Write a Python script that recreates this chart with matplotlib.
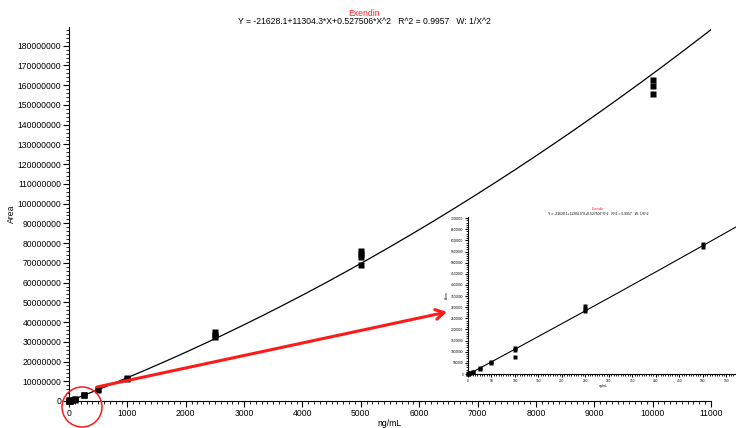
import numpy as np
import matplotlib.pyplot as plt
from matplotlib.patches import Ellipse, FancyArrowPatch
from matplotlib.ticker import MultipleLocator, FixedLocator

plt.rcParams['font.family'] = ['Liberation Sans', 'DejaVu Sans']

# calibration standards (ng/mL) and replicate peak areas
conc = [1, 1, 2, 5, 5, 10, 10, 25, 25, 50, 50,
        100, 100, 100, 250, 250, 250, 500, 500, 1000, 1000,
        2500, 2500, 2500, 5000, 5000, 5000, 5000,
        10000, 10000, 10000]
area = [20000, 15000, 35000, 60000, 45000, 110000, 95000, 250000, 230000, 540000, 500000,
        1180000, 1080000, 760000, 3050000, 2930000, 2820000, 5850000, 5720000, 11600000, 11400000,
        34800000, 33600000, 32600000, 75800000, 74500000, 73200000, 69100000,
        162500000, 159500000, 155500000]

# quadratic fit, weighting 1/X^2
coef = [-21628.1, 11304.3, 0.527506]
compound = "Exendin"
equation = "Y = -21628.1+11304.3*X+0.527506*X^2   R^2 = 0.9957   W: 1/X^2"

main_yticks = list(range(0, 180000001, 10000000))
main_xticks = list(range(0, 11001, 1000))
inset_yticks = list(range(0, 7000001, 500000))
inset_xticks = list(range(0, 551, 50))

W, H = 736, 428
fig = plt.figure(figsize=(W / 100, H / 100), dpi=100)


def fit(x):
    return coef[0] + coef[1] * x + coef[2] * x ** 2


def style_axes(a, fs, major_len, minor_len):
    for s in ['top', 'right']:
        a.spines[s].set_visible(False)
    a.tick_params(which='major', length=major_len, width=0.8, labelsize=fs, pad=1.5, direction='out')
    a.tick_params(which='minor', length=minor_len, width=0.6, direction='out')


# main plot
ax = fig.add_axes([69 / W, 27 / H, 642 / W, 374 / H])
xs = np.linspace(0, 11000, 400)
ax.plot(xs, fit(xs), color='black', lw=0.9)
ax.plot(conc, area, 's', color='black', ms=4.2, mec='none', clip_on=False)
ax.set_xlim(0, 11000)
ax.set_ylim(0, 189500000)
ax.yaxis.set_major_locator(FixedLocator(main_yticks))
ax.set_yticklabels([str(v) for v in main_yticks])
ax.yaxis.set_minor_locator(MultipleLocator(2000000))
ax.xaxis.set_major_locator(FixedLocator(main_xticks))
ax.set_xticklabels([str(v) for v in main_xticks])
ax.xaxis.set_minor_locator(MultipleLocator(100))
style_axes(ax, 6.2, 4, 2.5)
ax.set_xlabel("ng/mL", fontsize=6.2, labelpad=1)
ax.set_ylabel("Area", fontsize=6.2, labelpad=1)

fig.text(364 / W, 1 - 13 / H, compound, color='#ff2020', fontsize=6.2, ha='center', va='center')
fig.text(364 / W, 1 - 22 / H, equation, color='black', fontsize=6.2, ha='center', va='center')

# zoomed view of the low-concentration end
axi = fig.add_axes([468 / W, (H - 374) / H, 270 / W, 157 / H])
axi.patch.set_alpha(0)
xi = np.linspace(0, 575, 200)
axi.plot(xi, fit(xi), color='black', lw=0.8)
sel = [i for i, c in enumerate(conc) if c <= 575]
axi.plot([conc[i] for i in sel], [area[i] for i in sel], 's', color='black', ms=2.4, mec='none', clip_on=False)
axi.set_xlim(0, 575)
axi.set_ylim(0, 7050000)
axi.yaxis.set_major_locator(FixedLocator(inset_yticks))
axi.set_yticklabels([str(v) for v in inset_yticks])
axi.yaxis.set_minor_locator(MultipleLocator(100000))
axi.xaxis.set_major_locator(FixedLocator(inset_xticks))
axi.set_xticklabels([str(v) for v in inset_xticks])
axi.xaxis.set_minor_locator(MultipleLocator(5))
style_axes(axi, 2.3, 2, 1.2)
axi.set_xlabel("ng/mL", fontsize=2.3, labelpad=0.5)
axi.set_ylabel("Area", fontsize=2.3, labelpad=1)
fig.text(598 / W, 1 - 209 / H, compound, color='#ff2020', fontsize=2.4, ha='center', va='center')
fig.text(598 / W, 1 - 213.5 / H, equation, color='black', fontsize=2.4, ha='center', va='center')

# red circle and arrow pointing to the zoomed view
fig.add_artist(Ellipse((82 / W, 1 - 407 / H), 40 / W, 40 / H, transform=fig.transFigure,
                       fill=False, edgecolor='#ff1a1a', lw=1.1, clip_on=False))
fig.add_artist(FancyArrowPatch((97 / W, 1 - 387 / H), (447 / W, 1 - 312 / H), transform=fig.transFigure,
                               arrowstyle='->,head_length=6,head_width=3.5', color='#ff1a1a', lw=2.2,
                               shrinkA=0, shrinkB=0))

fig.savefig("out.png", dpi=100)
